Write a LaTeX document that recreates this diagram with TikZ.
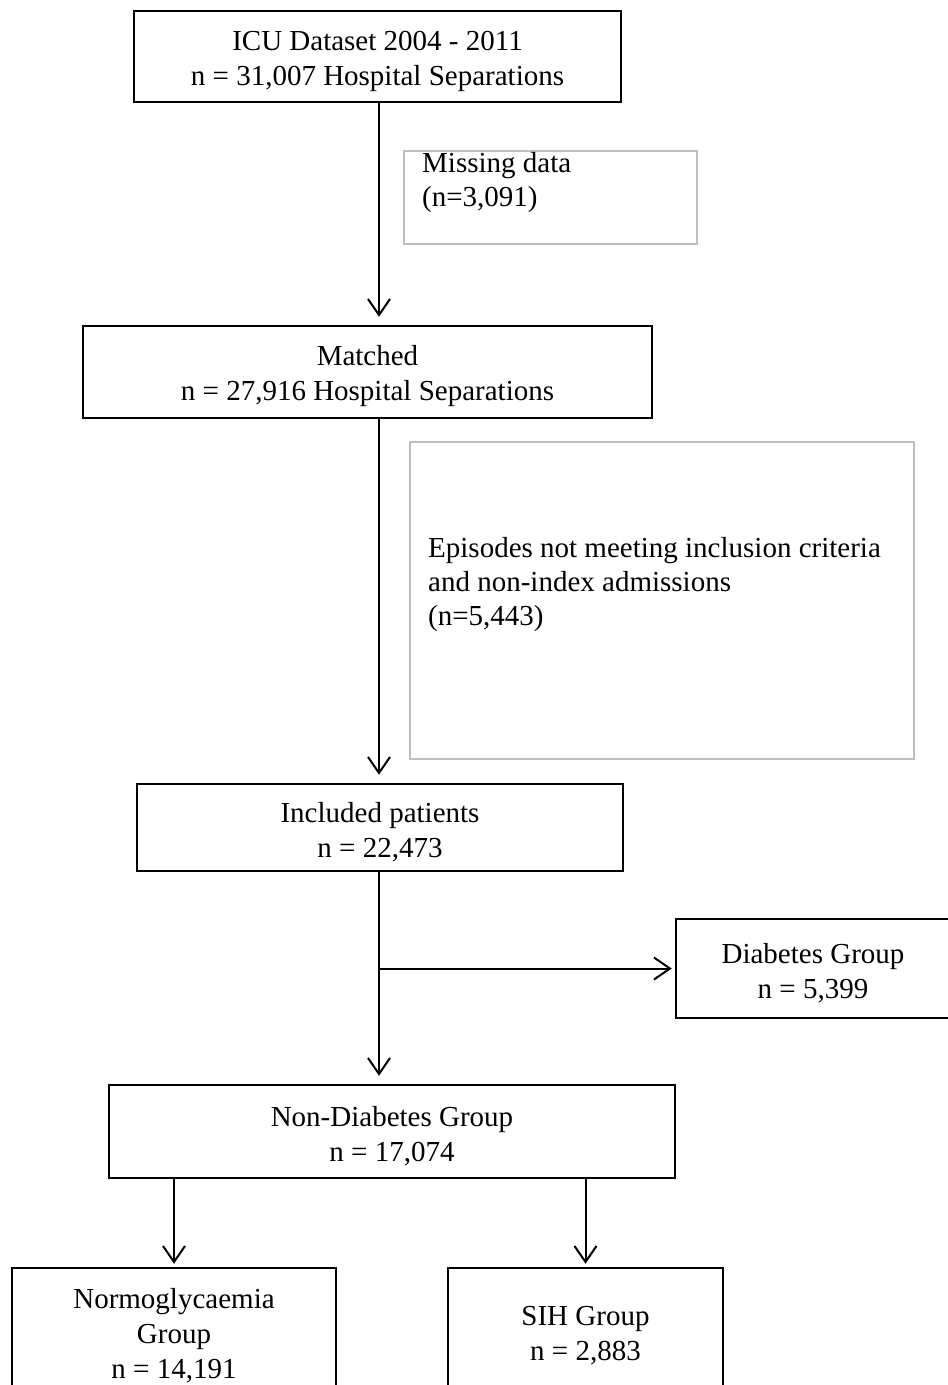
\documentclass[tikz,border=0pt]{standalone}
\usepackage{fontspec}
\setmainfont{Liberation Serif}
\usetikzlibrary{arrows.meta}
\newcommand{\boxstrut}{\rule{0pt}{29pt}}
\tikzset{%
  >={Straight Barb[length=16pt,width=22pt]},
            base/.style = {rectangle, draw=black, line width=2.5pt,
                           inner sep=0pt, text centered,
                           font=\fontsize{29}{35}\selectfont},
  box0/.style = {base, fill=white, align=center},
  void/.style = {rectangle, draw=black!25, line width=1.5pt, inner sep=0pt, anchor=north west},
  note/.style = {inner sep=0pt, align=left, anchor=north west, font=\fontsize{29}{34}\selectfont},
  link/.style = {->, line width=2pt, shorten >=8pt},
}
\begin{document}
\begin{tikzpicture}[x=1pt, y=-1pt]
  \useasboundingbox (0,0) rectangle (948,1385);
  \coordinate (spine) at (379,0);

  \node (onICU)     [box0, minimum width=487pt, minimum height=91pt]  at (377.5,56.5)  {\boxstrut ICU Dataset 2004 - 2011\\ n = 31,007 Hospital Separations};
  \node (onMatched) [box0, minimum width=569pt, minimum height=92pt]  at (367.5,372)   {\boxstrut Matched\\ n = 27,916 Hospital Separations};
  \node (onIncl)    [box0, minimum width=486pt, minimum height=87pt]  at (380,827.5)   {\boxstrut Included patients\\ n = 22,473};
  \node (onDiab)    [box0, minimum width=274pt, minimum height=99pt]  at (813,968.5)   {\boxstrut Diabetes Group\\ n = 5,399};
  \node (onNonDiab) [box0, minimum width=566pt, minimum height=93pt]  at (392,1131.5)  {\boxstrut Non-Diabetes Group\\ n = 17,074};
  \node (onNormo)   [box0, minimum width=324pt, minimum height=126pt] at (174,1331)    {\boxstrut Normoglycaemia\\ Group\\ n = 14,191};
  \node (onSIH)     [box0, minimum width=275pt, minimum height=126pt] at (585.5,1331)  {\boxstrut SIH Group\\ n = 2,883};

  % exclusion notes
  \node (onMiss)  [void, minimum width=293pt, minimum height=93pt]  at (403,150) {};
  \node (onMiss_) [note] at (422,152) {Missing data\\ (n=3,091)};
  \node (onEpi)   [void, minimum width=504pt, minimum height=317pt] at (409,441) {};
  \node (onEpi_)  [note] at (428,537) {Episodes not meeting inclusion criteria\\ and non-index admissions\\ (n=5,443)};

  \draw[link] (onICU.south -| spine)     -- (onMatched.north -| spine);
  \draw[link] (onMatched.south -| spine) -- (onIncl.north -| spine);
  \draw[link] (onIncl.south -| spine)    -- (onNonDiab.north -| spine);
  \draw[link, shorten >=3pt] (spine |- onDiab.west) -- (onDiab.west);
  \draw[link, shorten >=3pt] (onNormo.north |- onNonDiab.south) -- (onNormo.north);
  \draw[link, shorten >=3pt] (onSIH.north |- onNonDiab.south)   -- (onSIH.north);
\end{tikzpicture}
\end{document}
